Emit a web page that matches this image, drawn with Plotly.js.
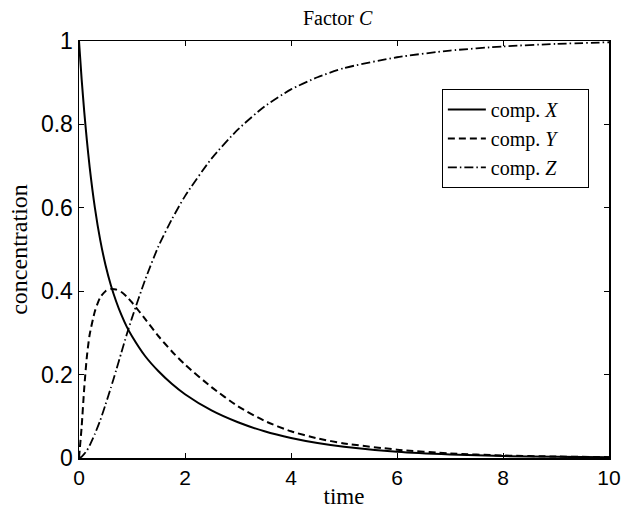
<!DOCTYPE html>
<html>
<head>
<meta charset="utf-8">
<script src="https://cdn.plot.ly/plotly-3.0.1.min.js"></script>
<style>html,body{margin:0;padding:0;background:#fff}#chart{width:623px;height:515px}</style>
</head>
<body>
<div id="chart"></div>
<script>
const timeX = [0, 0.05, 0.1, 0.15, 0.2, 0.3, 0.4, 0.5, 0.6, 0.7, 0.8, 0.9, 1.0, 1.25, 1.5, 1.75, 2, 2.5, 3, 3.5, 4, 4.5, 5, 6, 7, 8, 9, 10];
const compX = [1.0, 0.908, 0.829, 0.760, 0.699, 0.600, 0.523, 0.463, 0.415, 0.376, 0.343, 0.315, 0.292, 0.244, 0.208, 0.178, 0.153, 0.114, 0.0856, 0.064, 0.048, 0.036, 0.027, 0.015, 0.0085, 0.0047, 0.0027, 0.0015];

const timeY = [0, 0.05, 0.1, 0.15, 0.2, 0.3, 0.4, 0.5, 0.6, 0.7, 0.8, 0.9, 1.0, 1.25, 1.5, 1.75, 2, 2.5, 3, 3.5, 4, 4.5, 5, 6, 7, 8, 9, 10];
const compY = [0, 0.075, 0.17, 0.245, 0.295, 0.352, 0.385, 0.400, 0.405, 0.404, 0.398, 0.387, 0.373, 0.333, 0.292, 0.256, 0.224, 0.170, 0.124, 0.089, 0.064, 0.047, 0.035, 0.020, 0.011, 0.006, 0.0035, 0.002];

const timeZ = [0, 0.05, 0.1, 0.15, 0.2, 0.3, 0.4, 0.5, 0.6, 0.7, 0.8, 0.9, 1.0, 1.25, 1.5, 1.75, 2, 2.5, 3, 3.5, 4, 4.5, 5, 6, 7, 8, 9, 10];
const compZ = [0, 0.003, 0.01, 0.018, 0.03, 0.058, 0.09, 0.128, 0.168, 0.21, 0.253, 0.296, 0.336, 0.428, 0.508, 0.572, 0.628, 0.718, 0.788, 0.843, 0.884, 0.913, 0.935, 0.961, 0.977, 0.987, 0.993, 0.997];

const names = ['comp. <i>X</i>', 'comp. <i>Y</i>', 'comp. <i>Z</i>'];
const xTicks = [0, 2, 4, 6, 8, 10];
const yTicks = [0, 0.2, 0.4, 0.6, 0.8, 1];
const yTickText = ['0', '0.2', '0.4', '0.6', '0.8', '1'];

const serif = 'Liberation Serif, Times New Roman, serif';
const sans = 'Liberation Sans, Arial, sans-serif';
const pad = '&nbsp;&nbsp;&nbsp;&nbsp;&nbsp;';

const traces = [
  {x: timeX, y: compX, name: names[0] + pad, mode: 'lines', line: {color: '#000', width: 2, shape: 'spline', smoothing: 0.6}},
  {x: timeY, y: compY, name: names[1] + pad, mode: 'lines', line: {color: '#000', width: 2, dash: '7px,4px', shape: 'spline', smoothing: 0.6}},
  {x: timeZ, y: compZ, name: names[2] + pad, mode: 'lines', line: {color: '#000', width: 1.8, dash: '9px,3px,1.5px,3px', shape: 'spline', smoothing: 0.6}}
];

const axisCommon = {
  showgrid: false, zeroline: false, showline: true, linecolor: '#000', linewidth: 1.5,
  mirror: 'ticks', ticks: 'inside', ticklen: 5, tickcolor: '#000', tickwidth: 1
};

const layout = {
  width: 623, height: 515,
  margin: {l: 79, r: 14, t: 41, b: 57},
  paper_bgcolor: '#fff', plot_bgcolor: '#fff',
  showlegend: true,
  title: {text: 'Factor <i>C</i>', font: {family: serif, size: 20, color: '#000'}, x: 0.542, xanchor: 'center', y: 0.966, yanchor: 'middle'},
  xaxis: Object.assign({}, axisCommon, {range: [0, 10], tickvals: xTicks, ticktext: xTicks.map(String),
    tickfont: {family: sans, size: 21, color: '#000'},
    title: {text: 'time', font: {family: serif, size: 23, color: '#000'}, standoff: 0}}),
  yaxis: Object.assign({}, axisCommon, {range: [0, 1], tickvals: yTicks, ticktext: yTickText,
    tickfont: {family: sans, size: 23, color: '#000'},
    title: {text: 'concentration', font: {family: serif, size: 24, color: '#000'}, standoff: 6}}),
  legend: {x: 0.962, xanchor: 'right', y: 0.885, yanchor: 'top', bordercolor: '#000', borderwidth: 1, bgcolor: '#fff',
    font: {family: serif, size: 20, color: '#000'}, tracegroupgap: 0, itemwidth: 38}
};

Plotly.newPlot('chart', traces, layout, {staticPlot: true, displayModeBar: false});
</script>
</body>
</html>
